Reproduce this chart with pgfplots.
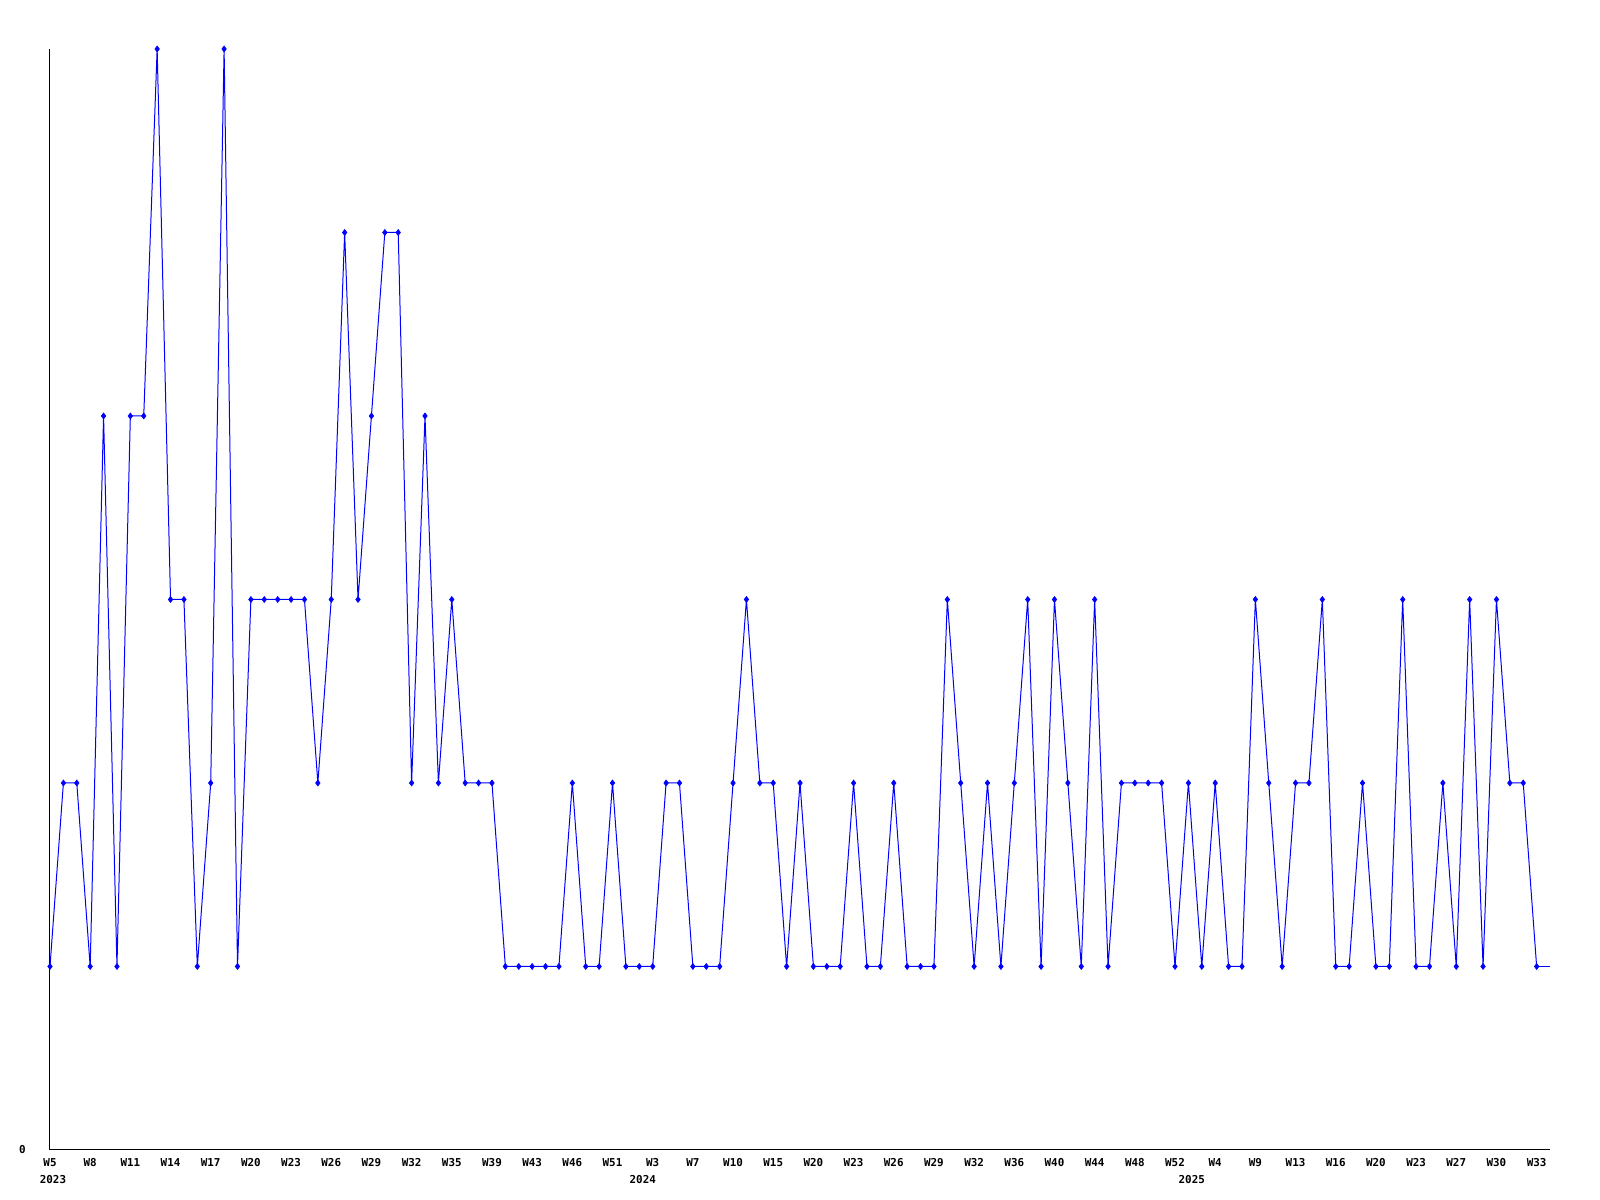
\documentclass[border=0pt]{standalone}
\usepackage{fontspec}
\setmonofont{DejaVu Sans Mono}
\usepackage{pgfplots}
\pgfplotsset{compat=1.18}
\newcommand{\lblfont}{\fontsize{3.1}{3.6}\selectfont\ttfamily\bfseries}
\begin{document}
\begin{tikzpicture}
\begin{axis}[name=ax, scale only axis, width=15cm, height=11.01cm,
  xmin=0, xmax=112, ymin=0, ymax=6, enlargelimits=false,
  axis lines=left, axis line style={-, black, line width=0.1mm},
  major tick length=0pt,
  xtick={0,3,...,111},
  xticklabels={W5,W8,W11,W14,W17,W20,W23,W26,W29,W32,W35,W39,W43,W46,W51,W3,W7,W10,W15,W20,W23,W26,W29,W32,W36,W40,W44,W48,W52,W4,W9,W13,W16,W20,W23,W27,W30,W33},
  ytick={0}, yticklabels={0},
  tick label style={font=\lblfont, inner sep=0pt},
  xticklabel style={anchor=north, yshift=-0.8mm},
  yticklabel style={anchor=center, xshift=-2.75mm},
  clip=false]
\addplot[blue, line width=0.1mm, mark=diamond*, mark size=0.3mm, mark options={solid, fill=blue, draw=blue, line width=0.06mm}] coordinates {
(0,1)(1,2)(2,2)(3,1)(4,4)(5,1)(6,4)(7,4)(8,6)(9,3)(10,3)(11,1)(12,2)(13,6)(14,1)(15,3)(16,3)(17,3)(18,3)(19,3)
(20,2)(21,3)(22,5)(23,3)(24,4)(25,5)(26,5)(27,2)(28,4)(29,2)(30,3)(31,2)(32,2)(33,2)(34,1)(35,1)(36,1)(37,1)(38,1)(39,2)
(40,1)(41,1)(42,2)(43,1)(44,1)(45,1)(46,2)(47,2)(48,1)(49,1)(50,1)(51,2)(52,3)(53,2)(54,2)(55,1)(56,2)(57,1)(58,1)(59,1)
(60,2)(61,1)(62,1)(63,2)(64,1)(65,1)(66,1)(67,3)(68,2)(69,1)(70,2)(71,1)(72,2)(73,3)(74,1)(75,3)(76,2)(77,1)(78,3)(79,1)
(80,2)(81,2)(82,2)(83,2)(84,1)(85,2)(86,1)(87,2)(88,1)(89,1)(90,3)(91,2)(92,1)(93,2)(94,2)(95,3)(96,1)(97,1)(98,2)(99,1)
(100,1)(101,3)(102,1)(103,1)(104,2)(105,1)(106,3)(107,1)(108,3)(109,2)(110,2)(111,1)
};
\addplot[blue, line width=0.1mm, no markers] coordinates {(111,1)(112,1)};
\node[anchor=north, inner sep=0pt, yshift=-2.45mm, font=\lblfont] at (axis cs:0.22,0) {2023};
\node[anchor=north, inner sep=0pt, yshift=-2.45mm, font=\lblfont] at (axis cs:44.26,0) {2024};
\node[anchor=north, inner sep=0pt, yshift=-2.45mm, font=\lblfont] at (axis cs:85.25,0) {2025};
\end{axis}
\pgfresetboundingbox
\path[use as bounding box] ([xshift=-5mm,yshift=-5mm]ax.south west) rectangle ([xshift=5mm,yshift=4.9mm]ax.north east);
\end{tikzpicture}
\end{document}
